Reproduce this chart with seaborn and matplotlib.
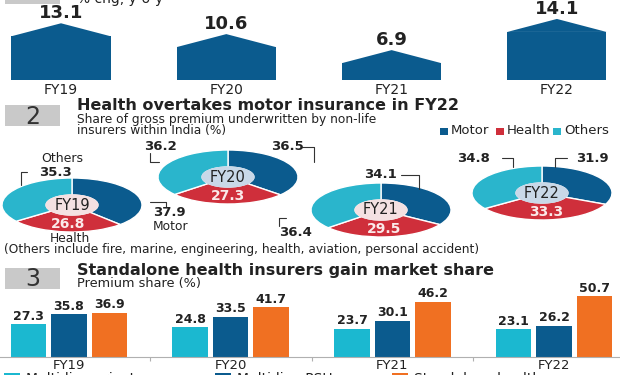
import numpy as np
import pandas as pd
import matplotlib.pyplot as plt
import seaborn as sns
from matplotlib.patches import Polygon, Rectangle, Circle

W, H = 620, 375

years = ['FY19', 'FY20', 'FY21', 'FY22']
premium_growth = [13.1, 10.6, 6.9, 14.1]          # % chg, y-o-y

motor_share = [37.9, 36.5, 34.1, 31.9]
health_share = [26.8, 27.3, 29.5, 33.3]
others_share = [35.3, 36.2, 36.4, 34.8]

insurer_types = ['Multi-line private', 'Multi-line PSUs', 'Standalone health']
private_share = [27.3, 24.8, 23.7, 23.1]
psu_share = [35.8, 33.5, 30.1, 26.2]
standalone_share = [36.9, 41.7, 46.2, 50.7]

BLUE = '#0b5b8e'
RED = '#cf2f3b'
CYAN = '#2ab5cc'
CYAN3 = '#1bb8d0'
ORANGE = '#f07022'
BOX_GREY = '#c9c9c9'
INK = '#222222'

sns.set_theme(style='white')
plt.rcParams['font.family'] = ['DejaVu Sans']

fig = plt.figure(figsize=(6.2, 3.75), dpi=100)


# helpers working in pixel coordinates (origin top-left)
def px_rect(x, y, w, h):
    return [x / W, 1 - (y + h) / H, w / W, h / H]


def ftext(x, y, s, **kw):
    kw.setdefault('color', INK)
    kw.setdefault('va', 'center')
    return fig.text(x / W, 1 - y / H, s, **kw)


def fline(xs, ys):
    fig.add_artist(plt.Line2D([x / W for x in xs], [1 - y / H for y in ys],
                              color='#333333', lw=0.8))


def grey_box(x, y, w, h, label=None):
    fig.add_artist(Rectangle((x / W, 1 - (y + h) / H), w / W, h / H,
                             transform=fig.transFigure, color=BOX_GREY, lw=0))
    if label:
        ftext(x + w / 2, y + h / 2 + 1, label, fontsize=17, ha='center', color='#333333')


# --- 1. premium growth "houses" ---
grey_box(5, -20, 55, 24)
ftext(77, -1, '% chg, y-o-y', fontsize=10)

ax1 = fig.add_axes(px_rect(0, 0, W, 80))
ax1.patch.set_alpha(0)
roof = 3.0
walls = [g - roof for g in premium_growth]
sns.barplot(x=years, y=walls, color=BLUE, width=0.6, saturation=1, linewidth=0, ax=ax1)
bars = list(ax1.patches)
for patch, val in zip(bars, premium_growth):
    x0, w, top = patch.get_x(), patch.get_width(), patch.get_height()
    ax1.add_patch(Polygon([(x0, top), (x0 + w / 2, val), (x0 + w, top)],
                          closed=True, color=BLUE, lw=0))
    ax1.text(x0 + w / 2, val + 10 / 4.33, f'{val}', ha='center', va='center',
             fontsize=13, fontweight='bold', color=INK)
unit1 = 165.3
ax1.set_xlim(-61 / unit1, (W - 61) / unit1)
ax1.set_ylim(0, 80 / 4.33)
sns.despine(ax=ax1, left=True, bottom=True)
ax1.set_yticks([])
ax1.set_xlabel('')
ax1.tick_params(axis='x', length=0, pad=2, labelsize=10, labelcolor=INK)

# --- 2. segment share donuts ---
grey_box(5, 105, 55, 21, '2')
ftext(77, 106, 'Health overtakes motor insurance in FY22', fontsize=11.5, fontweight='bold')
ftext(77, 119, 'Share of gross premium underwritten by non-life', fontsize=8.8)
ftext(77, 131, 'insurers within India (%)', fontsize=8.8)
for sx, name, col in [(440, 'Motor', BLUE), (496, 'Health', RED), (553, 'Others', CYAN)]:
    fig.add_artist(Rectangle((sx / W, 1 - 135 / H), 8 / W, 7 / H,
                             transform=fig.transFigure, color=col, lw=0))
    ftext(sx + 11, 131, name, fontsize=9.5)

donut_spots = [(72, 205), (228, 177), (381, 210), (542, 193)]
hole_colors = ['#f4e1e2', '#c9d8e8', '#f4e1e2', '#c9d8e8']
HW, HH = 70, 27
for i, yr in enumerate(years):
    cx, cy = donut_spots[i]
    ax = fig.add_axes(px_rect(cx - HW, cy - HH, 2 * HW, 2 * HH))
    ax.patch.set_alpha(0)
    vals = [motor_share[i], health_share[i], others_share[i]]
    wedges, _ = ax.pie(vals, colors=[BLUE, RED, CYAN], startangle=90, counterclock=False,
                       wedgeprops=dict(width=0.63, edgecolor='white', linewidth=1))
    ax.add_patch(Circle((0, 0), 0.37, color=hole_colors[i], zorder=3))
    ax.set_aspect('auto')
    ax.set_xlim(-1, 1)
    ax.set_ylim(-1, 1)
    ax.axis('off')
    ax.text(0, 0, yr, ha='center', va='center', fontsize=10.5, color=INK, zorder=4)
    hw = wedges[1]
    mid = np.deg2rad((hw.theta1 + hw.theta2) / 2)
    ax.text(0.7 * np.cos(mid), 0.7 * np.sin(mid), f'{health_share[i]}', ha='center',
            va='center', fontsize=10, fontweight='bold', color='#fbe9e9', zorder=4)

# callouts around the donuts
num = dict(fontsize=9.5, fontweight='bold')
ftext(62, 159, 'Others', fontsize=9, ha='center')
ftext(55, 172, f'{others_share[0]}', ha='center', **num)
fline([27, 21, 21], [172, 172, 185])
ftext(153, 213, f'{motor_share[0]}', ha='left', **num)
ftext(153, 226, 'Motor', fontsize=8.8, ha='left')
fline([150, 166, 166], [202, 202, 207])
ftext(70, 238, 'Health', fontsize=8.8, ha='center')

ftext(160, 147, f'{others_share[1]}', ha='center', **num)
fline([150, 150, 159], [153, 162, 162])
ftext(287, 147, f'{motor_share[1]}', ha='center', **num)
fline([302, 314, 314], [147, 147, 162])

ftext(380, 175, f'{motor_share[2]}', ha='center', **num)
fline([401, 419, 419], [175, 175, 189])
ftext(279, 232, f'{others_share[2]}', ha='left', **num)
fline([286, 279, 279], [218, 218, 226])

ftext(474, 158, f'{others_share[3]}', ha='center', **num)
fline([502, 513, 513], [158, 158, 167])
ftext(592, 158, f'{motor_share[3]}', ha='center', **num)
fline([567, 555, 555], [158, 158, 167])

ftext(4, 250, '(Others include fire, marine, engineering, health, aviation, personal accident)',
      fontsize=8.8, ha='left')

# --- 3. premium share by insurer type ---
grey_box(5, 268, 55, 21, '3')
ftext(77, 270, 'Standalone health insurers gain market share', fontsize=11.5, fontweight='bold')
ftext(77, 284, 'Premium share (%)', fontsize=9.3)

df = pd.DataFrame({
    'year': years * 3,
    'type': np.repeat(insurer_types, len(years)),
    'share': private_share + psu_share + standalone_share,
})
ax3 = fig.add_axes(px_rect(0, 290, W, 67))
ax3.patch.set_alpha(0)
sns.barplot(data=df, x='year', y='share', hue='type', hue_order=insurer_types,
            palette=[CYAN3, BLUE, ORANGE], width=0.75, gap=0.12, saturation=1,
            linewidth=0, legend=False, ax=ax3)
for c in ax3.containers:
    ax3.bar_label(c, fmt='%.1f', padding=1, fontsize=9, fontweight='bold', color=INK)
unit3 = 161.7
ax3.set_xlim(-69 / unit3, (W - 69) / unit3)
ax3.set_ylim(0, 67 / 1.2)
sns.despine(ax=ax3, left=True)
ax3.spines['bottom'].set_color('#b0b0b0')
ax3.spines['bottom'].set_linewidth(0.8)
ax3.set_yticks([])
ax3.set_xlabel('')
ax3.set_ylabel('')
ax3.set_xticks([0.5, 1.5, 2.5], minor=True)
ax3.tick_params(axis='x', which='major', length=0, pad=1.5, labelsize=9.5, labelcolor=INK)
ax3.tick_params(axis='x', which='minor', length=3, width=0.8, color='#b0b0b0', bottom=True)

for sx, name, col in [(4, insurer_types[0], CYAN3), (215, insurer_types[1], BLUE),
                      (392, insurer_types[2], ORANGE)]:
    fig.add_artist(Rectangle((sx / W, 1 - 385 / H), 16 / W, 12 / H,
                             transform=fig.transFigure, color=col, lw=0))
    ftext(sx + 22, 379, name, fontsize=10)

fig.savefig('out.png', dpi=100)
